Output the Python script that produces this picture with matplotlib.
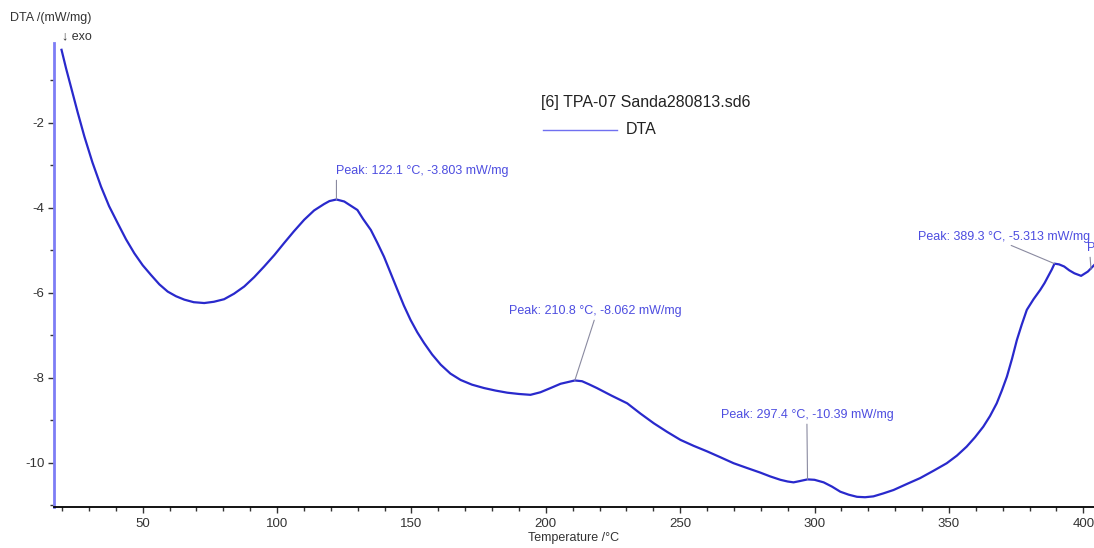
import matplotlib
matplotlib.use("Agg")
import matplotlib.pyplot as plt
from matplotlib.ticker import MultipleLocator
from matplotlib.lines import Line2D

plt.rcParams['font.family'] = ['Liberation Sans', 'DejaVu Sans']
plt.rcParams['axes.unicode_minus'] = False

# DTA curve (temperature in °C, DTA in mW/mg)
temp = [19.8, 21.5, 23.3, 25.8, 28.3, 31.3, 34.5, 37.5, 40.7, 43.8,
        46.9, 50.0, 53.1, 56.2, 59.3, 62.4, 65.5, 69.0, 72.9, 76.5,
        80.3, 84.0, 87.8, 91.5, 95.2, 99.0, 102.6, 106.3, 110.1, 113.8,
        117.5, 119.5, 122.1, 125.0, 129.9, 132.0, 134.9, 137.3, 139.8, 142.3,
        144.8, 147.2, 149.7, 152.2, 154.7, 157.7, 160.9, 164.5, 168.3, 172.5,
        177.0, 181.3, 185.7, 190.0, 194.3, 198.0, 201.8, 205.5, 210.8, 213.5,
        216.0, 219.0, 224.5, 230.3, 235.2, 240.2, 245.1, 250.1, 255.0, 260.0,
        265.0, 269.9, 274.8, 279.8, 283.5, 287.3, 290.0, 292.2, 294.5, 297.4,
        300.0, 303.4, 306.5, 309.6, 312.7, 315.8, 318.8, 321.9, 325.6, 329.4,
        334.3, 339.3, 344.2, 349.2, 353.0, 356.6, 359.7, 362.8, 365.3, 367.8,
        369.7, 371.6, 373.5, 375.3, 377.1, 379.0, 381.5, 384.0, 385.6, 387.2,
        388.3, 389.3, 391.0, 392.9, 394.8, 396.7, 399.2, 401.7, 404.0]
dta = [-0.28, -0.72, -1.15, -1.75, -2.32, -2.93, -3.50, -3.96, -4.36, -4.74,
       -5.07, -5.35, -5.58, -5.80, -5.97, -6.08, -6.16, -6.22, -6.24, -6.21,
       -6.15, -6.02, -5.85, -5.63, -5.38, -5.11, -4.83, -4.55, -4.28, -4.06,
       -3.91, -3.84, -3.803, -3.85, -4.05, -4.26, -4.52, -4.82, -5.15, -5.54,
       -5.93, -6.30, -6.64, -6.93, -7.18, -7.45, -7.69, -7.90, -8.05, -8.16,
       -8.24, -8.30, -8.35, -8.38, -8.40, -8.34, -8.24, -8.14, -8.062, -8.08,
       -8.15, -8.24, -8.42, -8.60, -8.84, -9.07, -9.27, -9.46, -9.60, -9.73,
       -9.87, -10.01, -10.12, -10.23, -10.32, -10.40, -10.44, -10.46, -10.43, -10.39,
       -10.40, -10.46, -10.56, -10.68, -10.75, -10.80, -10.81, -10.79, -10.72, -10.64,
       -10.50, -10.36, -10.19, -10.01, -9.83, -9.62, -9.40, -9.15, -8.90, -8.60,
       -8.30, -7.97, -7.55, -7.11, -6.75, -6.40, -6.15, -5.93, -5.77, -5.58,
       -5.45, -5.313, -5.33, -5.38, -5.47, -5.54, -5.60, -5.50, -5.35]

peak_t = [122.1, 210.8, 297.4, 389.3]
peak_v = [-3.803, -8.062, -10.39, -5.313]
peak_labels = ["Peak: 122.1 °C, -3.803 mW/mg",
               "Peak: 210.8 °C, -8.062 mW/mg",
               "Peak: 297.4 °C, -10.39 mW/mg",
               "Peak: 389.3 °C, -5.313 mW/mg"]
# label offsets in pixels and where the leader meets the label box
label_off = [(0, 28), (-66, 69), (-87, 64), (-136, 27)]
label_rel = [(0, 0), (0.5, 0), (0.5, 0), (0.5, 0)]

x_ticks = [50, 100, 150, 200, 250, 300, 350, 400]
y_ticks = [-2, -4, -6, -8, -10]

curve_col = '#2929cc'
text_col = '#4d4de0'

fig = plt.figure(figsize=(10.94, 5.48), dpi=100)
ax = fig.add_axes([54 / 1094, 41 / 548, 1 - 54 / 1094, (507 - 43) / 548])

ax.plot(temp, dta, color=curve_col, lw=1.6, solid_joinstyle='round')

for t, v, lab, off, rel in zip(peak_t, peak_v, peak_labels, label_off, label_rel):
    ax.annotate(lab, xy=(t, v), xytext=off, textcoords='offset pixels',
                ha='left', va='center', fontsize=9, color=text_col,
                annotation_clip=False,
                arrowprops=dict(arrowstyle='-', color='#8a8aa0', lw=0.8,
                                shrinkA=0, shrinkB=0, relpos=rel))

# partly visible label at the right edge
ax.annotate("Peak", xy=(402.9, -5.45), xytext=(-4, 21), textcoords='offset pixels',
            ha='left', va='center', fontsize=9, color=text_col, annotation_clip=False,
            arrowprops=dict(arrowstyle='-', color='#8a8aa0', lw=0.8,
                            shrinkA=0, shrinkB=0, relpos=(0.1, 0)))

ax.set_xlim(17, 404)
ax.set_ylim(-11.04, -0.12)
ax.set_xticks(x_ticks)
ax.set_yticks(y_ticks)
ax.xaxis.set_minor_locator(MultipleLocator(10))
ax.yaxis.set_minor_locator(MultipleLocator(1))
ax.tick_params(axis='both', which='major', length=4, width=1, labelsize=9.5,
               labelcolor='#333333', color='#333333')
ax.tick_params(axis='both', which='minor', length=3, width=1, color='#333333')
ax.tick_params(axis='x', pad=4)
ax.tick_params(axis='y', pad=3)

for s in ['top', 'right']:
    ax.spines[s].set_visible(False)
ax.spines['left'].set_color('#7d7df5')
ax.spines['left'].set_linewidth(2)
ax.spines['bottom'].set_color('black')
ax.spines['bottom'].set_linewidth(1.3)

ax.set_xlabel("Temperature /°C", fontsize=9, color='#333333', labelpad=1)

fig.text(10 / 1094, 1 - 18 / 548, "DTA /(mW/mg)", fontsize=9, color='#333333',
         ha='left', va='center')
fig.text(62 / 1094, 1 - 36 / 548, "↓ exo", fontsize=9, color='#333333',
         ha='left', va='center')

# legend block
fig.text(541 / 1094, 1 - 103 / 548, "[6] TPA-07 Sanda280813.sd6", fontsize=11.5,
         color='#222222', ha='left', va='center')
fig.add_artist(Line2D([543 / 1094, 617 / 1094], [1 - 130 / 548, 1 - 130 / 548],
                      transform=fig.transFigure, color='#7070f0', lw=1))
fig.text(626 / 1094, 1 - 130 / 548, "DTA", fontsize=11.5, color='#222222',
         ha='left', va='center')

fig.savefig("out.png", dpi=100, facecolor='white')
